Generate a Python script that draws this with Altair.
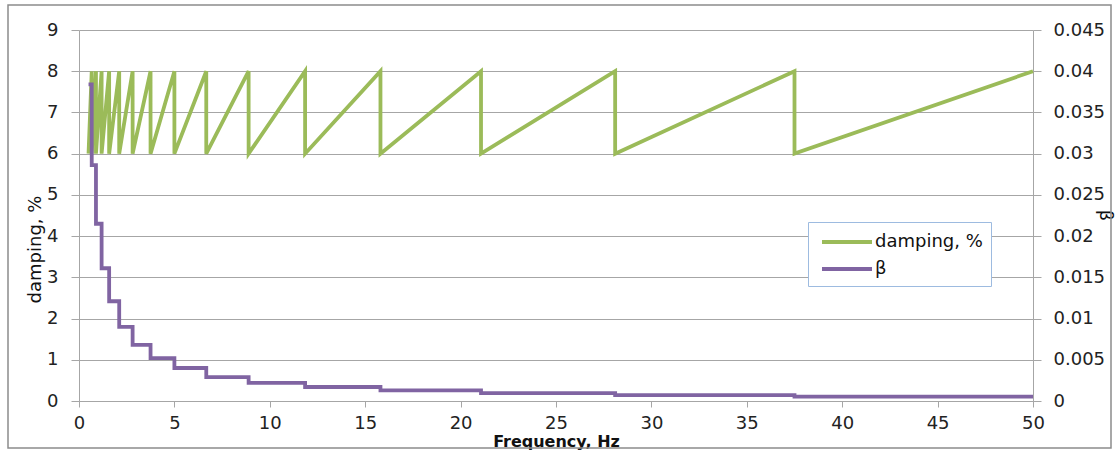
import altair as alt
import pandas as pd

# ---- data ----
freq_breaks = [0.5, 0.667, 0.889, 1.185, 1.58, 2.107, 2.81, 3.75, 5.0, 6.67,
               8.89, 11.85, 15.8, 21.07, 28.1, 37.5, 50.0]
damping_low = 6.0
damping_high = 8.0
beta_levels = [0.0384, 0.0286, 0.0215, 0.0161, 0.0121, 0.0090, 0.0068, 0.0052,
               0.0040, 0.0029, 0.0022, 0.0017, 0.0013, 0.00095, 0.00072, 0.00053]
x_ticks = [0, 5, 10, 15, 20, 25, 30, 35, 40, 45, 50]
left_ticks = [0, 1, 2, 3, 4, 5, 6, 7, 8, 9]
right_ticks = [0, 0.005, 0.01, 0.015, 0.02, 0.025, 0.03, 0.035, 0.04, 0.045]
series_names = ["damping, %", "β"]
series_colors = ["#9bbb59", "#8064a2"]

# ---- tables ----
d_rows = [{"freq": freq_breaks[0], "val": damping_low}]
for f in freq_breaks[1:]:
    d_rows.append({"freq": f, "val": damping_high})
    d_rows.append({"freq": f, "val": damping_low})
d_rows = d_rows[:-1]
for i, r in enumerate(d_rows):
    r["order"] = i
    r["series"] = series_names[0]
df_d = pd.DataFrame(d_rows)

b_rows = [{"freq": f, "beta": b} for f, b in zip(freq_breaks[:-1], beta_levels)]
b_rows.append({"freq": freq_breaks[-1], "beta": beta_levels[-1]})
for i, r in enumerate(b_rows):
    r["order"] = i
    r["series"] = series_names[1]
df_b = pd.DataFrame(b_rows)

FONT = "DejaVu Sans"
GRID = "#a6a6a6"

color = alt.Color(
    "series:N",
    scale=alt.Scale(domain=series_names, range=series_colors),
    legend=alt.Legend(
        title=None, orient="none", legendX=729, legendY=192,
        fillColor="white", strokeColor="#9dbbe0", padding=8,
        symbolType="M-2.5,0H2.5", symbolSize=400, symbolStrokeWidth=4,
        symbolOffset=19, labelFont=FONT, labelFontSize=18, labelColor="#111111",
        labelOffset=16, rowPadding=6, cornerRadius=0,
    ),
)

x_enc = alt.X(
    "freq:Q",
    scale=alt.Scale(domain=[0, 50], nice=False, zero=False),
    axis=alt.Axis(
        values=x_ticks, title="Frequency, Hz", grid=False, labelFlush=False,
        domainColor=GRID, tickColor=GRID, tickSize=6,
        labelFont=FONT, labelFontSize=18, labelColor="#222222", labelPadding=7,
        titleFont=FONT, titleFontSize=16, titleFontWeight="bold", titleColor="#111111",
        titleX=477, titleY=45, titleBaseline="alphabetic", titleAlign="center",
    ),
)

frame = alt.Chart(pd.DataFrame({"a": [0]})).mark_rect(
    fill="white", fillOpacity=0, stroke="#8c8c8c", strokeWidth=1.5
).encode(
    x=alt.value(-71), x2=alt.value(1032), y=alt.value(-25), y2=alt.value(418)
)

green = alt.Chart(df_d).mark_line(strokeWidth=3.8).encode(
    x=x_enc,
    y=alt.Y(
        "val:Q",
        scale=alt.Scale(domain=[0, 9], nice=False),
        axis=alt.Axis(
            orient="left", values=left_ticks, title="damping, %", grid=True,
            labelFlush=False,
            gridColor=GRID, gridWidth=1, domainColor=GRID, tickColor=GRID, tickSize=8,
            labelFont=FONT, labelFontSize=18, labelColor="#222222", labelPadding=13,
            titleFont=FONT, titleFontSize=18, titleFontWeight="normal", titleColor="#111111",
            titleX=-39, titleY=219, titleBaseline="alphabetic", titleAlign="center",
        ),
    ),
    color=color,
    order="order:Q",
)

purple = alt.Chart(df_b).mark_line(strokeWidth=3.8, interpolate="step-after").encode(
    x=x_enc,
    y=alt.Y(
        "beta:Q",
        scale=alt.Scale(domain=[0, 0.045], nice=False),
        axis=alt.Axis(
            orient="right", values=right_ticks, format="~g", title="β", grid=False,
            labelFlush=False,
            domainColor=GRID, tickColor=GRID, tickSize=8,
            labelFont=FONT, labelFontSize=18, labelColor="#222222", labelPadding=12,
            titleFont=FONT, titleFontSize=17, titleFontWeight="normal", titleColor="#111111",
            titleX=66, titleY=185, titleBaseline="alphabetic", titleAlign="center",
            titleAngle=90,
        ),
    ),
    color=color,
    order="order:Q",
)

chart = alt.layer(frame, green, purple).resolve_scale(y="independent").properties(
    width=954, height=371,
    autosize=alt.AutoSizeParams(type="none"),
    padding={"left": 79, "top": 30, "right": 82, "bottom": 52},
    background="white",
).configure_view(stroke=None)

chart.save("out.html", embed_options={"renderer": "svg", "actions": False})
